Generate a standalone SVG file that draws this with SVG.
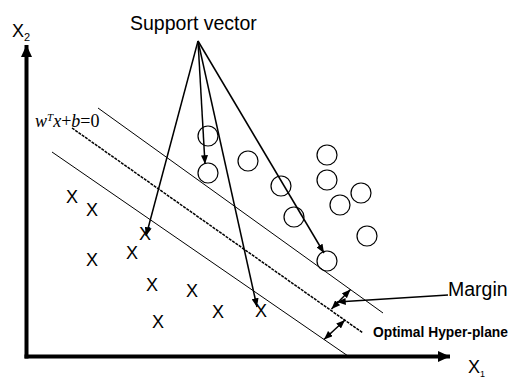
<svg xmlns="http://www.w3.org/2000/svg" width="510" height="378" viewBox="0 0 510 378">
<style>
.lbl{font-family:"Liberation Sans",Arial,sans-serif;fill:#000}
.x{font-family:"Liberation Sans",Arial,sans-serif;font-size:18px;fill:#000;text-anchor:middle}
.c{fill:none;stroke:#000;stroke-width:1.2}
.thin{stroke:#000;stroke-width:1;fill:none}
.sv{stroke:#000;stroke-width:1.5;fill:none}
.eq{font-family:"Liberation Serif","Times New Roman",serif;font-size:18px;fill:#000}
</style>
<defs>
<marker id="ah" viewBox="0 0 10 8" refX="10" refY="4" markerWidth="9" markerHeight="7" markerUnits="userSpaceOnUse" orient="auto-start-reverse">
<path d="M0,0 L10,4 L0,8 Z" fill="#000"/>
</marker>
<marker id="axh" viewBox="0 0 12 11" refX="12" refY="5.5" markerWidth="12" markerHeight="11" markerUnits="userSpaceOnUse" orient="auto">
<path d="M0,0 L12,5.5 L0,11 Z" fill="#000"/>
</marker>
</defs>
<rect width="510" height="378" fill="#fff"/>

<g id="axes">
<line x1="26.5" y1="358.5" x2="26.5" y2="45" stroke="#000" stroke-width="4" marker-end="url(#axh)"/>
<line x1="24.5" y1="356.5" x2="450" y2="356.5" stroke="#000" stroke-width="4" marker-end="url(#axh)"/>
<text class="lbl" x="12" y="37" font-size="18">X<tspan font-size="11" dy="4">2</tspan></text>
<text class="lbl" x="468" y="373" font-size="18">X<tspan font-size="9" dy="4">1</tspan></text>
</g>

<g id="hyperplanes">
<line class="thin" x1="98" y1="108" x2="383" y2="313"/>
<line x1="72" y1="128" x2="363" y2="333" stroke="#000" stroke-width="1.5" stroke-dasharray="3,1"/>
<line class="thin" x1="52" y1="152" x2="348" y2="356"/>
</g>

<g id="equation">
<text class="eq" x="35" y="127"><tspan font-style="italic">w</tspan><tspan font-style="italic" font-size="11" dy="-6">T</tspan><tspan font-style="italic" dy="6">x</tspan>+<tspan font-style="italic">b</tspan>=0</text>
</g>

<g id="circles">
<circle class="c" cx="208" cy="136" r="10"/>
<circle class="c" cx="208" cy="173" r="10"/>
<circle class="c" cx="248" cy="161" r="10"/>
<circle class="c" cx="281" cy="186" r="10"/>
<circle class="c" cx="327" cy="155" r="10"/>
<circle class="c" cx="327" cy="180" r="10"/>
<circle class="c" cx="361" cy="193" r="10"/>
<circle class="c" cx="340" cy="205" r="10"/>
<circle class="c" cx="294" cy="217" r="10"/>
<circle class="c" cx="367" cy="236" r="10"/>
<circle class="c" cx="327" cy="261" r="10"/>
</g>

<g id="crosses">
<text class="x" x="72" y="203">X</text>
<text class="x" x="92" y="215.5">X</text>
<text class="x" x="145" y="239.5">X</text>
<text class="x" x="132" y="259">X</text>
<text class="x" x="92" y="265.5">X</text>
<text class="x" x="152" y="290.5">X</text>
<text class="x" x="192" y="296.5">X</text>
<text class="x" x="158" y="328">X</text>
<text class="x" x="218" y="318">X</text>
<text class="x" x="261" y="316.5">X</text>
</g>

<g id="support-vector">
<text class="lbl" x="130" y="30" font-size="19.5">Support vector</text>
</g>

<g id="connectors">
<line class="sv" x1="198" y1="41" x2="146" y2="236" marker-end="url(#ah)"/>
<line class="sv" x1="198" y1="41" x2="205" y2="164" marker-end="url(#ah)"/>
<line class="sv" x1="198" y1="41" x2="257" y2="307" marker-end="url(#ah)"/>
<line class="sv" x1="198" y1="41" x2="324" y2="253" marker-end="url(#ah)"/>
<line class="sv" x1="331.5" y1="309" x2="350.5" y2="289.5" marker-start="url(#ah)" marker-end="url(#ah)"/>
<line class="sv" x1="324" y1="339.5" x2="345" y2="320" marker-start="url(#ah)" marker-end="url(#ah)"/>
<line class="sv" x1="448" y1="295" x2="337" y2="302" marker-end="url(#ah)"/>
</g>

<g id="margin">
<text class="lbl" x="448" y="296" font-size="19.5">Margin</text>
</g>
<g id="optimal">
<text class="lbl" x="373" y="337" font-size="13.8" font-weight="bold">Optimal Hyper-plane</text>
</g>
</svg>
